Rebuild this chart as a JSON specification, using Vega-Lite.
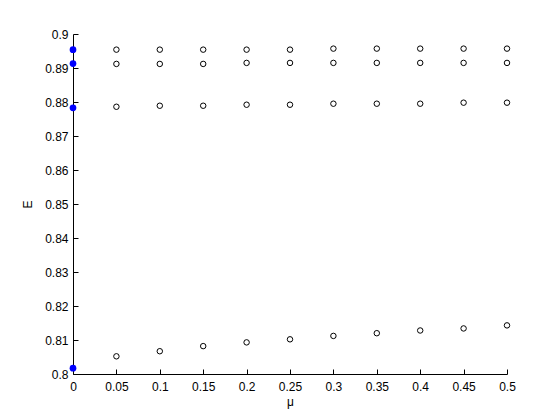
{
  "$schema": "https://vega.github.io/schema/vega-lite/v6.json",
  "autosize": "none",
  "width": 434,
  "height": 340,
  "padding": {"left": 73, "top": 34, "right": 53, "bottom": 46},
  "background": "white",
  "config": {
    "view": {"stroke": null},
    "axis": {
      "grid": false,
      "domainColor": "black",
      "tickColor": "black",
      "labelColor": "black",
      "titleColor": "black",
      "labelFont": "Liberation Sans",
      "titleFont": "Liberation Sans",
      "labelFontSize": 12,
      "titleFontSize": 12,
      "titleFontWeight": "normal",
      "tickSize": -5,
      "format": "~g"
    }
  },
  "data": {
    "values": [
      {"mu": 0, "E": 0.8954, "kind": "start"},
      {"mu": 0, "E": 0.8913, "kind": "start"},
      {"mu": 0, "E": 0.8783, "kind": "start"},
      {"mu": 0, "E": 0.8017, "kind": "start"},
      {"mu": 0.05, "E": 0.8954, "kind": "run"},
      {"mu": 0.1, "E": 0.8954, "kind": "run"},
      {"mu": 0.15, "E": 0.8954, "kind": "run"},
      {"mu": 0.2, "E": 0.8954, "kind": "run"},
      {"mu": 0.25, "E": 0.8954, "kind": "run"},
      {"mu": 0.3, "E": 0.8957, "kind": "run"},
      {"mu": 0.35, "E": 0.8957, "kind": "run"},
      {"mu": 0.4, "E": 0.8957, "kind": "run"},
      {"mu": 0.45, "E": 0.8957, "kind": "run"},
      {"mu": 0.5, "E": 0.8957, "kind": "run"},
      {"mu": 0.05, "E": 0.8912, "kind": "run"},
      {"mu": 0.1, "E": 0.8912, "kind": "run"},
      {"mu": 0.15, "E": 0.8912, "kind": "run"},
      {"mu": 0.2, "E": 0.8915, "kind": "run"},
      {"mu": 0.25, "E": 0.8915, "kind": "run"},
      {"mu": 0.3, "E": 0.8915, "kind": "run"},
      {"mu": 0.35, "E": 0.8915, "kind": "run"},
      {"mu": 0.4, "E": 0.8915, "kind": "run"},
      {"mu": 0.45, "E": 0.8915, "kind": "run"},
      {"mu": 0.5, "E": 0.8915, "kind": "run"},
      {"mu": 0.05, "E": 0.8786, "kind": "run"},
      {"mu": 0.1, "E": 0.8789, "kind": "run"},
      {"mu": 0.15, "E": 0.8789, "kind": "run"},
      {"mu": 0.2, "E": 0.8792, "kind": "run"},
      {"mu": 0.25, "E": 0.8792, "kind": "run"},
      {"mu": 0.3, "E": 0.8795, "kind": "run"},
      {"mu": 0.35, "E": 0.8795, "kind": "run"},
      {"mu": 0.4, "E": 0.8795, "kind": "run"},
      {"mu": 0.45, "E": 0.8798, "kind": "run"},
      {"mu": 0.5, "E": 0.8798, "kind": "run"},
      {"mu": 0.05, "E": 0.8052, "kind": "run"},
      {"mu": 0.1, "E": 0.8067, "kind": "run"},
      {"mu": 0.15, "E": 0.8082, "kind": "run"},
      {"mu": 0.2, "E": 0.8093, "kind": "run"},
      {"mu": 0.25, "E": 0.8102, "kind": "run"},
      {"mu": 0.3, "E": 0.8112, "kind": "run"},
      {"mu": 0.35, "E": 0.8120, "kind": "run"},
      {"mu": 0.4, "E": 0.8128, "kind": "run"},
      {"mu": 0.45, "E": 0.8134, "kind": "run"},
      {"mu": 0.5, "E": 0.8143, "kind": "run"}
    ]
  },
  "encoding": {
    "x": {
      "field": "mu", "type": "quantitative", "title": "μ",
      "scale": {"domain": [0, 0.5], "nice": false, "zero": false},
      "axis": {"values": [0, 0.05, 0.1, 0.15, 0.2, 0.25, 0.3, 0.35, 0.4, 0.45, 0.5], "labelPadding": 12, "titlePadding": 4, "labelFlush": false}
    },
    "y": {
      "field": "E", "type": "quantitative", "title": "E",
      "scale": {"domain": [0.8, 0.9], "nice": false, "zero": false},
      "axis": {"values": [0.8, 0.81, 0.82, 0.83, 0.84, 0.85, 0.86, 0.87, 0.88, 0.89, 0.9], "labelPadding": 10, "titlePadding": 10, "labelFlush": false}
    }
  },
  "layer": [
    {
      "transform": [{"filter": "datum.kind === 'run'"}],
      "mark": {"type": "point", "shape": "circle", "filled": false, "color": "black", "strokeWidth": 1, "size": 30, "opacity": 1, "clip": false}
    },
    {
      "transform": [{"filter": "datum.kind === 'start'"}],
      "mark": {"type": "point", "shape": "circle", "filled": true, "color": "#0000ff", "size": 45, "opacity": 1, "clip": false}
    }
  ]
}
